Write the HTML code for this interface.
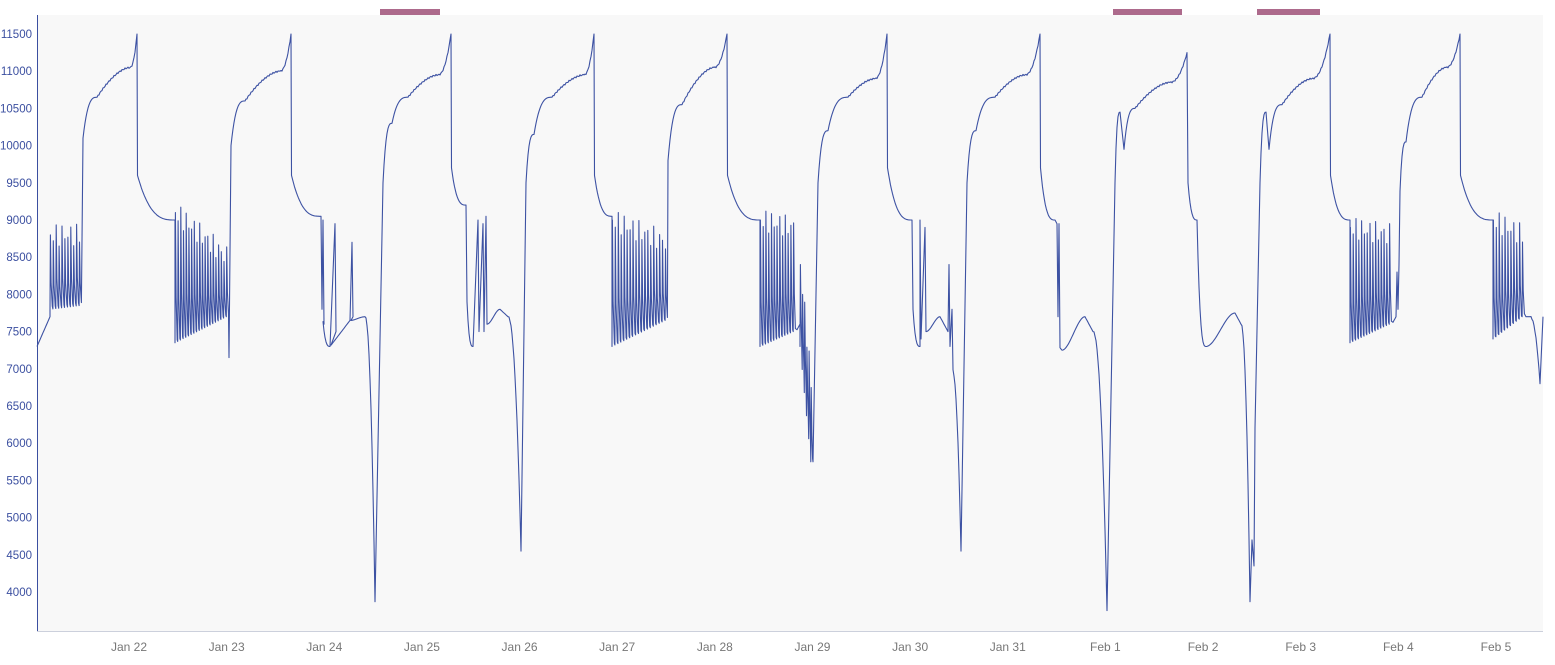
<!DOCTYPE html>
<html><head><meta charset="utf-8"><style>
html,body{margin:0;padding:0;background:#fff;}
body{width:1555px;height:660px;overflow:hidden;font-family:"Liberation Sans",sans-serif;}
</style></head><body>
<svg id="s" width="1555" height="660" xmlns="http://www.w3.org/2000/svg">
<rect x="37" y="15" width="1506" height="616" fill="#f8f8f8"/>
<rect x="380" y="9" width="60" height="6" fill="#ad6a8c"/>
<rect x="1113" y="9" width="69" height="6" fill="#ad6a8c"/>
<rect x="1257" y="9" width="63" height="6" fill="#ad6a8c"/>
<line x1="37.5" y1="15" x2="37.5" y2="631" stroke="#3b4fa0" stroke-width="1"/>
<line x1="37" y1="631.5" x2="1543" y2="631.5" stroke="#ccd0dc" stroke-width="1"/>
<g id="yl" font-size="11.5" fill="#3b4fa0" text-anchor="end"></g>
<g id="xl" font-size="12" fill="#777" text-anchor="middle"></g>
<path id="p" fill="none" stroke="#3d52a3" stroke-width="1.1" stroke-linejoin="round"/>
</svg>
<script>
var Y=function(v){return 34+(11500-v)*0.0744;};
var yl=document.getElementById('yl'),xl=document.getElementById('xl');
var h='';for(var v=4000;v<=11500;v+=500){h+='<text x="32" y="'+(Y(v)+4)+'">'+v+'</text>';}
yl.innerHTML=h;
var labs=['Jan 22','Jan 23','Jan 24','Jan 25','Jan 26','Jan 27','Jan 28','Jan 29','Jan 30','Jan 31','Feb 1','Feb 2','Feb 3','Feb 4','Feb 5'];
h='';for(var i=0;i<labs.length;i++){h+='<text x="'+(129+i*97.64)+'" y="651">'+labs[i]+'</text>';}
xl.innerHTML=h;
var P=[];var cx=37,cv=7300;P.push([cx,cv]);
function to(x,v,t){var n=Math.max(2,Math.round((x-cx)));for(var i=1;i<=n;i++){var s=i/n,e;
if(t=='out')e=1-Math.pow(1-s,3);else if(t=='o2')e=1-Math.pow(1-s,1.7);else if(t=='in')e=Math.pow(s,2.2);else if(t=='s')e=s*s*(3-2*s);else e=s;
var nz=((t=='in'||t=='o2')&&i<n)?(Math.sin(i*2.3)*10):0;
P.push([cx+(x-cx)*s,cv+(v-cv)*e+nz]);}cx=x;cv=v;}
function jump(x,v){P.push([x,v]);cx=x;cv=v;}
function spikes(x0,x1,n,lA,lB,hA,hB){for(var i=0;i<n;i++){var s=i/(n-1||1);var x=x0+(x1-x0)*i/n;var lo=lA+(lB-lA)*s;var hi=hA+(hB-hA)*s+Math.sin(i*3.7)*150;
P.push([x,lo]);P.push([x+0.4,hi]);P.push([x+1.1,lo+(hi-lo)*0.35]);P.push([x+(x1-x0)/n*0.8,lo+40]);}cx=x1;cv=lB;}
to(50,7700,'lin');spikes(50,82,11,7800,7850,8800,8800);
jump(83,10100);to(97,10650,'out');to(130,11050,'o2');to(137,11500,'in');
jump(137.5,9600);to(175,9000,'out');
spikes(175,229,20,7350,7700,9100,8500);jump(229,7150);
jump(231,10000);to(245,10600,'out');to(280,11000,'o2');to(291,11500,'in');
jump(291.5,9600);to(321,9050,'out');
jump(322,7800);P.push([323,9000]);P.push([324,7600]);to(330,7300,'out');P.push([335,8950]);P.push([336,7500]);to(350,7650,'lin');P.push([352,8700]);P.push([353,7700]);to(365,7700,'s');to(375,3870,'in');
to(383,9500,'lin');to(392,10300,'out');to(408,10650,'out');to(438,10950,'o2');to(451,11500,'in');
jump(451.5,9700);to(466,9200,'out');jump(467,7900);to(473,7300,'out');P.push([478,9000]);P.push([479,7500]);P.push([483,8950]);P.push([484,7500]);P.push([486,9050]);P.push([487,7600]);cx=487;cv=7600;to(500,7800,'s');to(508,7700,'lin');to(521,4550,'in');
to(526,9500,'lin');to(534,10150,'out');to(552,10650,'out');to(584,10950,'o2');to(594,11500,'in');
jump(594.5,9600);to(612,9050,'out');
spikes(612,668,19,7300,7650,9000,8700);
jump(668,9800);to(682,10550,'out');to(714,11050,'o2');to(727,11500,'in');
jump(727.5,9600);to(760,9000,'out');
spikes(760,796,13,7300,7500,9000,8900);to(800,7600,'lin');spikes(800,813,6,7300,5750,8400,6800);jump(813,5750);
to(818,9500,'lin');to(828,10200,'out');to(848,10650,'out');to(875,10900,'o2');to(887,11500,'in');
jump(887.5,9700);to(912,9000,'out');jump(913,7800);to(920,7300,'out');P.push([920,9000]);P.push([921,7400]);P.push([925,8900]);P.push([926,7500]);cx=926;cv=7500;to(940,7700,'s');to(948,7500,'lin');P.push([949,8400]);P.push([950,7300]);P.push([952,7800]);cx=952;cv=7000;to(961,4550,'in');
to(967,9500,'lin');to(976,10200,'out');to(995,10650,'out');to(1025,10950,'o2');to(1040,11500,'in');
jump(1040.5,9700);to(1055,9000,'out');P.push([1057,8950]);P.push([1058,7700]);P.push([1059,8950]);cx=1059;cv=7300;to(1062,7250,'lin');to(1085,7700,'s');to(1093,7500,'lin');to(1107,3750,'in');
to(1115,9500,'lin');to(1120,10450,'out');to(1124,9950,'lin');to(1135,10500,'out');to(1170,10850,'o2');to(1187,11250,'in');
jump(1188,9500);to(1197,9000,'out');to(1206,7300,'out');to(1235,7750,'s');to(1241,7600,'lin');to(1250,3870,'in');
to(1252,4700,'lin');to(1254,4350,'lin');to(1255,6200,'lin');to(1260,9500,'lin');to(1266,10450,'out');to(1269,9950,'lin');to(1282,10550,'out');to(1312,10900,'o2');to(1330,11500,'in');
jump(1330.5,9600);to(1350,9000,'out');
spikes(1350,1392,15,7350,7600,8900,8800);to(1396,7700,'lin');P.push([1397,8300]);P.push([1398,7800]);P.push([1399,8400]);
cx=1399;cv=9000;to(1406,10050,'out');to(1422,10650,'out');to(1446,11050,'o2');to(1460,11500,'in');
jump(1460.5,9600);to(1493,9000,'out');
spikes(1493,1525,11,7400,7700,9000,8800);to(1530,7700,'lin');to(1540,6800,'in');to(1543,7700,'lin');
var d='M'+P.map(function(p){return p[0].toFixed(1)+','+Y(p[1]).toFixed(1);}).join('L');
document.getElementById('p').setAttribute('d',d);
</script>
</body></html>
